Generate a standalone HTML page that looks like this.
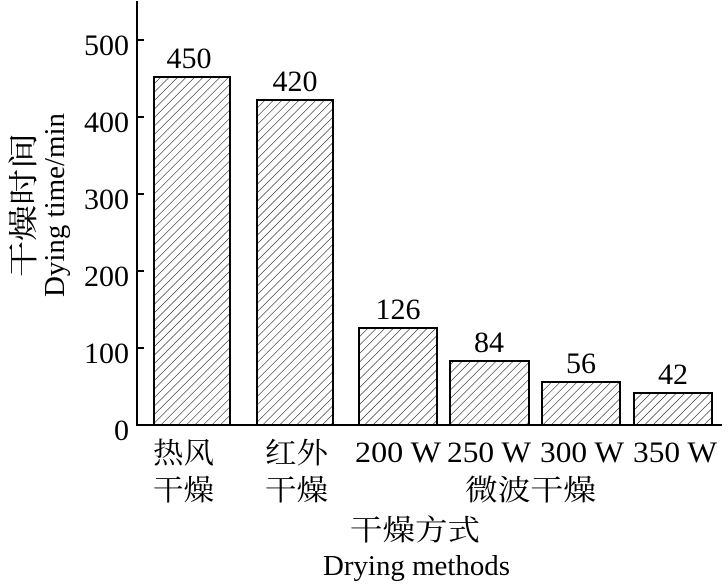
<!DOCTYPE html>
<html><head><meta charset="utf-8"><style>
body{margin:0;background:#fff}
text{font-family:"Liberation Serif","Noto Serif CJK SC",serif;fill:#000}
</style></head><body>
<svg width="728" height="582" viewBox="0 0 728 582" xmlns="http://www.w3.org/2000/svg">
<defs>
<pattern id="h" patternUnits="userSpaceOnUse" width="6" height="6" patternTransform="rotate(45)">
<line x1="0" y1="0" x2="0" y2="6" stroke="#000" stroke-width="1"/>
</pattern>
</defs>
<g stroke="#000" stroke-width="2" fill="none">
<line x1="137" y1="1" x2="137" y2="425"/>
<line x1="136" y1="425" x2="722" y2="425"/>
<line x1="137" y1="40" x2="144" y2="40"/>
<line x1="137" y1="117" x2="144" y2="117"/>
<line x1="137" y1="194" x2="144" y2="194"/>
<line x1="137" y1="271" x2="144" y2="271"/>
<line x1="137" y1="348" x2="144" y2="348"/>
</g>
<g stroke="#000" stroke-width="2" fill="url(#h)">
<rect x="154" y="77" width="76" height="348"/>
<rect x="257" y="100" width="76" height="325"/>
<rect x="359" y="328" width="78" height="97"/>
<rect x="450" y="361" width="79" height="64"/>
<rect x="542" y="382" width="78" height="43"/>
<rect x="634" y="393" width="78" height="32"/>
</g>
<g font-size="30" text-anchor="end">
<text x="129" y="55">500</text>
<text x="129" y="132">400</text>
<text x="129" y="209">300</text>
<text x="129" y="286">200</text>
<text x="129" y="363">100</text>
<text x="129" y="440">0</text>
</g>
<g font-size="30" text-anchor="middle">
<text x="189" y="68">450</text>
<text x="295" y="91">420</text>
<text x="398" y="319">126</text>
<text x="489" y="352">84</text>
<text x="581" y="373">56</text>
<text x="673" y="384">42</text>
</g>
<g font-size="30">
<text x="355" y="462" textLength="86" lengthAdjust="spacingAndGlyphs">200 W</text>
<text x="447" y="462" textLength="84" lengthAdjust="spacingAndGlyphs">250 W</text>
<text x="540" y="462" textLength="84" lengthAdjust="spacingAndGlyphs">300 W</text>
<text x="633" y="462" textLength="84" lengthAdjust="spacingAndGlyphs">350 W</text>
</g>
<g font-size="29">
<text x="153" y="463" textLength="61" lengthAdjust="spacingAndGlyphs">热风</text>
<text x="153" y="500" textLength="61" lengthAdjust="spacingAndGlyphs">干燥</text>
<text x="265" y="463" textLength="63" lengthAdjust="spacingAndGlyphs">红外</text>
<text x="265" y="500" textLength="63" lengthAdjust="spacingAndGlyphs">干燥</text>
<text x="465" y="500" textLength="131" lengthAdjust="spacingAndGlyphs">微波干燥</text>
<text x="350" y="540" textLength="130" lengthAdjust="spacingAndGlyphs">干燥方式</text>
</g>
<text x="323" y="575" font-size="28" textLength="187" lengthAdjust="spacingAndGlyphs">Drying methods</text>
<text transform="translate(34,277) rotate(-90)" font-size="30" textLength="144" lengthAdjust="spacingAndGlyphs">干燥时间</text>
<text transform="translate(64,297) rotate(-90)" font-size="28" textLength="184" lengthAdjust="spacingAndGlyphs">Dying time/min</text>
</svg>
</body></html>
